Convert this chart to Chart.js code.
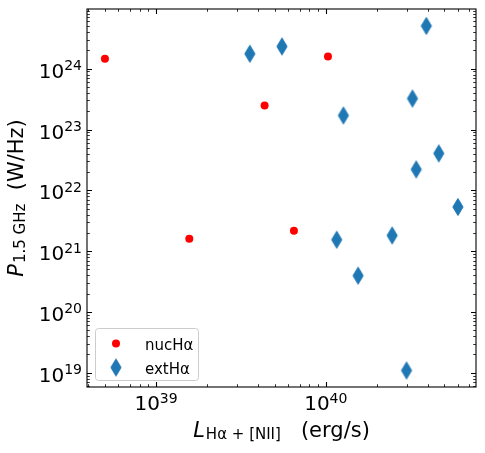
<!DOCTYPE html>
<html><head><meta charset="utf-8">
<script src="https://cdn.jsdelivr.net/npm/chart.js@4/dist/chart.umd.min.js"></script>
<style>html,body{margin:0;padding:0;background:#fff}#wrap{width:485px;height:453px;position:relative}</style>
</head><body><div id="wrap"><canvas id="c" width="485" height="453"></canvas></div>
<script>
// ---- data ----
const nucLabel = 'nucHα';
const nucL = [5.0e38, 4.36e39, 1.03e40, 1.57e39, 6.49e39];
const nucP = [1.46e24, 2.48e23, 1.59e24, 1.60e21, 2.16e21];
const extLabel = 'extHα';
const extL = [3.57e39, 5.52e39, 3.91e40, 3.24e40, 1.27e40, 4.63e40, 3.41e40, 6.00e40, 1.16e40, 1.55e40, 2.46e40, 2.99e40];
const extP = [1.76e24, 2.32e24, 5.06e24, 3.23e23, 1.70e23, 4.05e22, 2.21e22, 5.33e21, 1.54e21, 3.95e20, 1.81e21, 1.09e19];
const xTickExps = [39, 40];
const yTickExps = [19, 20, 21, 22, 23, 24];
const xRange = [3.92e38, 7.67e40];
const yRange = [5.83e18, 9.59e24];

const FONT = '"DejaVu Sans", sans-serif';
const RED = '#ff0000', BLUE = '#1f77b4';

// thin diamond marker
function makeDiamond(){
  const c = document.createElement('canvas');
  c.width = 14; c.height = 20;
  const g = c.getContext('2d');
  g.fillStyle = BLUE; g.strokeStyle = BLUE; g.lineWidth = 1;
  g.beginPath();
  g.moveTo(7, 1.5); g.lineTo(12.1, 10); g.lineTo(7, 18.5); g.lineTo(1.9, 10); g.closePath();
  g.fill(); g.stroke();
  return c;
}
const diamond = makeDiamond();

function drawParts(ctx, parts, x, y){
  // parts: [{t, size, italic, dy}] drawn left to right starting at x, baseline y
  let cx = x;
  for (const p of parts){
    ctx.font = (p.italic ? 'italic ' : '') + p.size + 'px ' + FONT;
    ctx.fillText(p.t, cx, y + (p.dy||0));
    cx += ctx.measureText(p.t).width + (p.gap||0);
  }
  return cx - x;
}
function partsWidth(ctx, parts){
  let w = 0;
  for (const p of parts){
    ctx.font = (p.italic ? 'italic ' : '') + p.size + 'px ' + FONT;
    w += ctx.measureText(p.t).width + (p.gap||0);
  }
  return w;
}

const TF = 20, SF = 14;
const decor = {
  id: 'decor',
  afterDraw(chart){
    const ctx = chart.ctx, a = chart.chartArea;
    const xs = chart.scales.x, ys = chart.scales.y;
    ctx.save();
    ctx.strokeStyle = '#000'; ctx.fillStyle = '#000';
    // ticks (inward, all sides)
    function tick(orient, pos, len, lw){
      ctx.lineWidth = lw;
      ctx.beginPath();
      if (orient === 'x'){
        ctx.moveTo(pos, a.bottom); ctx.lineTo(pos, a.bottom - len);
        ctx.moveTo(pos, a.top); ctx.lineTo(pos, a.top + len);
      } else {
        ctx.moveTo(a.left, pos); ctx.lineTo(a.left + len, pos);
        ctx.moveTo(a.right, pos); ctx.lineTo(a.right - len, pos);
      }
      ctx.stroke();
    }
    for (let e = 38; e <= 41; e++){
      for (let m = 1; m <= 9; m++){
        const v = m * Math.pow(10, e);
        if (v < xRange[0] || v > xRange[1]) continue;
        tick('x', Math.round(xs.getPixelForValue(v)) + 0.5, m === 1 ? 5 : 2.8, m === 1 ? 1.1 : 0.8);
      }
    }
    for (let e = 18; e <= 25; e++){
      for (let m = 1; m <= 9; m++){
        const v = m * Math.pow(10, e);
        if (v < yRange[0] || v > yRange[1]) continue;
        tick('y', Math.round(ys.getPixelForValue(v)) + 0.5, m === 1 ? 5 : 2.8, m === 1 ? 1.1 : 0.8);
      }
    }
    // frame
    ctx.lineWidth = 1.1;
    ctx.strokeRect(a.left, a.top, a.right - a.left, a.bottom - a.top);

    // tick labels
    ctx.textBaseline = 'alphabetic'; ctx.textAlign = 'left';
    for (const e of xTickExps){
      const px = xs.getPixelForValue(Math.pow(10, e));
      const parts = [{t:'10', size:TF}, {t:String(e), size:SF, dy:-7.5}];
      const w = partsWidth(ctx, parts);
      drawParts(ctx, parts, px - w/2, a.bottom + 23);
    }
    for (const e of yTickExps){
      const py = ys.getPixelForValue(Math.pow(10, e));
      const parts = [{t:'10', size:TF}, {t:String(e), size:SF, dy:-7.5}];
      const w = partsWidth(ctx, parts);
      drawParts(ctx, parts, a.left - 5 - w, py + 9);
    }
    // axis titles
    const LF = 21, LS = 15;
    const xl = [{t:'L', size:LF, italic:true, gap:1}, {t:'Hα + [NII]', size:LS, dy:2}, {t:'   (erg/s)', size:LF}];
    const xw = partsWidth(ctx, xl);
    drawParts(ctx, xl, (a.left + a.right)/2 - xw/2, 437);
    const yl = [{t:'P', size:LF, italic:true, gap:1}, {t:'1.5 GHz', size:LS, dy:2}, {t:'  (W/Hz)', size:LF}];
    const yw = partsWidth(ctx, yl);
    ctx.save();
    ctx.translate(23, (a.top + a.bottom)/2);
    ctx.rotate(-Math.PI/2);
    drawParts(ctx, yl, -yw/2, 0);
    ctx.restore();

    // legend
    const bx = 95.5, by = 328.5, bw = 103, bh = 52, r = 3;
    ctx.beginPath();
    ctx.moveTo(bx + r, by); ctx.lineTo(bx + bw - r, by); ctx.arcTo(bx + bw, by, bx + bw, by + r, r);
    ctx.lineTo(bx + bw, by + bh - r); ctx.arcTo(bx + bw, by + bh, bx + bw - r, by + bh, r);
    ctx.lineTo(bx + r, by + bh); ctx.arcTo(bx, by + bh, bx, by + bh - r, r);
    ctx.lineTo(bx, by + r); ctx.arcTo(bx, by, bx + r, by, r); ctx.closePath();
    ctx.fillStyle = 'rgba(255,255,255,0.8)'; ctx.fill();
    ctx.strokeStyle = '#cccccc'; ctx.lineWidth = 1; ctx.stroke();
    ctx.fillStyle = RED;
    ctx.beginPath(); ctx.arc(116, 343.5, 4, 0, Math.PI*2); ctx.fill();
    ctx.drawImage(diamond, 116 - diamond.width/2, 367.5 - diamond.height/2);
    ctx.fillStyle = '#000';
    ctx.font = '15px ' + FONT;
    ctx.fillText(chart.data.datasets[0].label, 145, 349.5);
    ctx.fillText(chart.data.datasets[1].label, 145, 373.5);
    ctx.restore();
  }
};

new Chart(document.getElementById('c'), {
  type: 'scatter',
  data: {
    datasets: [
      { label: nucLabel, data: nucL.map((v, i) => ({x: v, y: nucP[i]})),
        pointStyle: 'circle', pointRadius: 4, pointHoverRadius: 4, backgroundColor: RED, borderWidth: 0, order: 1 },
      { label: extLabel, data: extL.map((v, i) => ({x: v, y: extP[i]})),
        pointStyle: diamond, pointRadius: 9, backgroundColor: BLUE, borderWidth: 0, order: 0 }
    ]
  },
  options: {
    responsive: false, animation: false, devicePixelRatio: 1,
    layout: { padding: { top: 7, right: 7, left: 0, bottom: 0 } },
    plugins: { legend: { display: false }, tooltip: { enabled: false } },
    scales: {
      x: { type: 'logarithmic', min: xRange[0], max: xRange[1],
           ticks: { display: false }, grid: { display: false }, border: { display: false },
           afterFit(s){ s.height = 66; } },
      y: { type: 'logarithmic', min: yRange[0], max: yRange[1],
           ticks: { display: false }, grid: { display: false }, border: { display: false },
           afterFit(s){ s.width = 87; } }
    }
  },
  plugins: [decor]
});
</script>
</body></html>
